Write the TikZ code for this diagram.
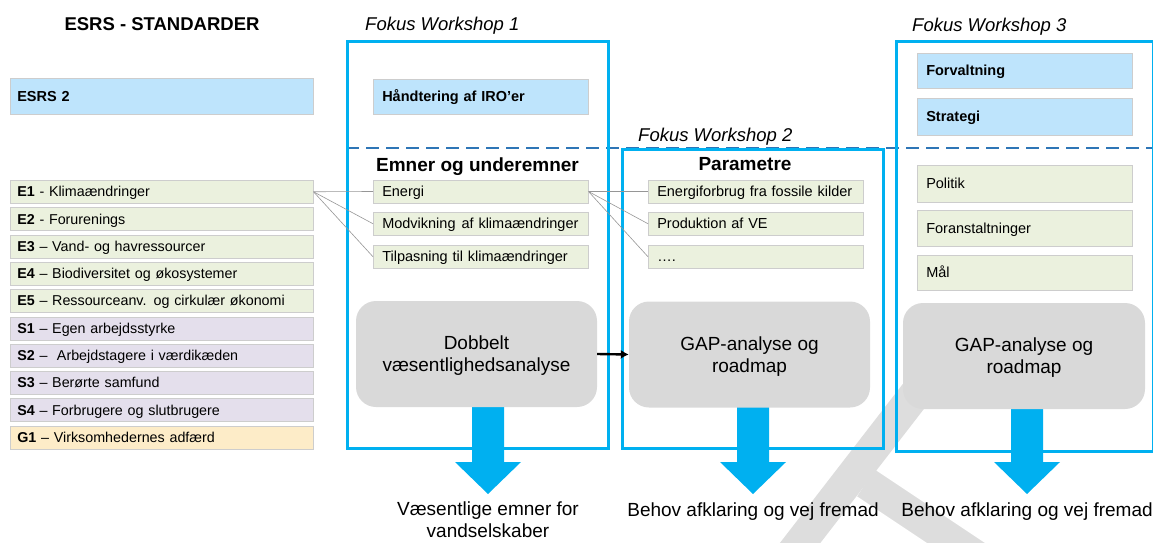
\documentclass[tikz,border=0pt]{standalone}
\usepackage{fontspec}
\setmainfont{Liberation Sans}
\usetikzlibrary{arrows.meta}
\definecolor{lblue}{RGB}{190,228,252}
\definecolor{lgreen}{RGB}{235,241,222}
\definecolor{llav}{RGB}{228,223,236}
\definecolor{lyel}{RGB}{253,236,200}
\definecolor{wsblue}{RGB}{0,176,240}
\definecolor{dashblue}{RGB}{46,117,182}
\definecolor{gbox}{RGB}{217,217,217}
\definecolor{wmark}{RGB}{221,221,221}
\definecolor{cline}{RGB}{150,150,150}
\definecolor{bord}{RGB}{205,205,205}
\newcommand{\fsList}{\fontsize{14.3pt}{17pt}\selectfont}
\newcommand{\fsBox}{\fontsize{14.5pt}{17pt}\selectfont}
\newcommand{\fsBig}{\fontsize{19pt}{22pt}\selectfont}
\newcommand{\fsTitle}{\fontsize{18.5pt}{22pt}\selectfont}
\newcommand{\bluearrow}[1]{\fill[wsblue] ({#1-16},400) -- ({#1+16},400) -- ({#1+16},462) -- ({#1+33},462) -- (#1,494) -- ({#1-33},462) -- ({#1-16},462) -- cycle;}
\tikzset{
  lst/.style={anchor=north west, inner xsep=7pt, inner ysep=0pt, text width=289pt,
    minimum height=23pt, align=left, font=\fsList, text height=11pt, text depth=1pt,
    draw=bord, line width=0.5pt},
  wbox/.style={anchor=north west, inner xsep=9pt, inner ysep=0pt, text width=197pt,
    align=left, font=\fsBox, text height=11.4pt, text depth=1pt,
    draw=bord, line width=0.5pt},
  gbx/.style={fill=gbox, rounded corners=20pt, minimum width=241pt, minimum height=106pt,
    align=center, font=\fsBig, text depth=0pt, inner sep=0pt},
  wsframe/.style={draw=wsblue, line width=2.8pt, anchor=north west, inner sep=0pt},
  dsh/.style={draw=dashblue, line width=2.8pt, dash pattern=on 13pt off 7pt},
  conn/.style={draw=cline, line width=0.6pt},
  flow/.style={draw=black, line width=2.4pt, -{Latex[length=8pt,width=9pt]}},
  ttl/.style={font=\fsTitle\itshape, anchor=base west, inner sep=0pt},
  hdr/.style={font=\fsBig\bfseries, anchor=base, inner sep=0pt},
  outtxt/.style={font=\fsBig, align=center, inner sep=0pt},
  wm/.style={draw=wmark, line width=32pt}
}
\begin{document}
\begin{tikzpicture}[x=1pt,y=-1pt]
\useasboundingbox (0,0) rectangle (1153,543);
% watermark
\coordinate (wa1) at (780,569);
\coordinate (wa2) at (957,340);
\coordinate (wb1) at (866,483);
\coordinate (wb2) at (1010,579);
\draw[wm] (wa1) -- (wa2);
\draw[wm] (wb1) -- (wb2);

% left column
\node[font=\fsTitle\bfseries, anchor=base, inner sep=0pt] (esrshd) at (162,31) {ESRS - STANDARDER};
\node[lst, fill=lblue, minimum height=36pt, font=\fsBox\bfseries] (esrs2) at (10,78) {ESRS 2};
\node[lst, fill=lgreen] (e1) at (10,180) {\textbf{E1} - Klimaændringer};
\node[lst, fill=lgreen] (e2) at (10,207.3) {\textbf{E2} - Forurenings};
\node[lst, fill=lgreen] (e3) at (10,234.6) {\textbf{E3} – Vand- og havressourcer};
\node[lst, fill=lgreen] (e4) at (10,261.9) {\textbf{E4} – Biodiversitet og økosystemer};
\node[lst, fill=lgreen] (e5) at (10,289.2) {\textbf{E5} – Ressourceanv. og cirkulær økonomi};
\node[lst, fill=llav] (s1) at (10,316.5) {\textbf{S1} – Egen arbejdsstyrke};
\node[lst, fill=llav] (s2) at (10,343.8) {\textbf{S2} –\ \ Arbejdstagere i værdikæden};
\node[lst, fill=llav] (s3) at (10,371.1) {\textbf{S3} – Berørte samfund};
\node[lst, fill=llav] (s4) at (10,398.4) {\textbf{S4} – Forbrugere og slutbrugere};
\node[lst, fill=lyel] (g1) at (10,425.7) {\textbf{G1} – Virksomhedernes adfærd};

% dashed divider
\coordinate (dl) at (346,148);
\coordinate (dr) at (1153,148);
\draw[dsh] (dl) -- (dr);

% workshop frames
\node[wsframe, minimum width=261pt, minimum height=407pt] (ws1) at (346,40) {};
\node[wsframe, minimum width=261pt, minimum height=299pt] (ws2) at (621,148) {};
\node[wsframe, minimum width=257pt, minimum height=410pt] (ws3) at (895,40) {};

\node[ttl] (t1) at (365,31) {Fokus Workshop 1};
\node[ttl] (t2) at (638,141) {Fokus Workshop 2};
\node[ttl] (t3) at (912,32) {Fokus Workshop 3};

% workshop 1
\node[wbox, fill=lblue, minimum height=35pt, font=\fsBox\bfseries] (iro) at (373,79) {Håndtering af IRO’er};
\node[hdr] (emner) at (477.5,171) {Emner og underemner};
\node[wbox, fill=lgreen, minimum height=22.5pt] (energi) at (373,180) {Energi};
\node[wbox, fill=lgreen, minimum height=23pt] (modv) at (373,212) {\mbox{Modvikning\hspace{6pt}af klimaændringer}};
\node[wbox, fill=lgreen, minimum height=23pt] (tilp) at (373,245) {\mbox{Tilpasning til klimaændringer}};

% workshop 2
\node[hdr] (param) at (745,170) {Parametre};
\node[wbox, fill=lgreen, minimum height=22.5pt] (p1) at (648,180) {\mbox{Energiforbrug fra fossile kilder}};
\node[wbox, fill=lgreen, minimum height=23pt] (p2) at (648,212) {Produktion af VE};
\node[wbox, fill=lgreen, minimum height=23pt] (p3) at (648,245) {….};

% workshop 3
\node[wbox, fill=lblue, minimum height=35pt, font=\fsBox\bfseries] (forv) at (917,53) {Forvaltning};
\node[wbox, fill=lblue, minimum height=37pt, font=\fsBox\bfseries] (strat) at (917,98) {Strategi};
\node[wbox, fill=lgreen, minimum height=37pt] (pol) at (917,165) {Politik};
\node[wbox, fill=lgreen, minimum height=36pt] (foran) at (917,210) {Foranstaltninger};
\node[wbox, fill=lgreen, minimum height=35pt] (maal) at (917,255) {Mål};

% connectors
\draw[conn] (e1.east) -- (energi.west);
\draw[conn] (e1.east) -- (modv.west);
\draw[conn] (e1.east) -- (tilp.west);
\draw[conn] (energi.east) -- (p1.west);
\draw[conn] (energi.east) -- (p2.west);
\draw[conn] (energi.east) -- (p3.west);

% blue arrows
\bluearrow{488}
\bluearrow{753}
\bluearrow{1027}

% grey process boxes
\node[gbx] (gb1) at (476.5,354) {Dobbelt\\væsentlighedsanalyse};
\node[gbx] (gb2) at (749.5,354.5) {GAP-analyse og\\roadmap};
\node[gbx, minimum width=242pt] (gb3) at (1024,356) {GAP-analyse og\\roadmap};
\draw[flow] (gb1.east) -- (gb2.west);

% outputs
\node[outtxt, text depth=0pt] (o1) at (488,520) {Væsentlige emner for\\vandselskaber};
\node[font=\fsBig, anchor=base, inner sep=0pt] (o2) at (753,516) {Behov afklaring og vej fremad};
\node[font=\fsBig, anchor=base, inner sep=0pt] (o3) at (1027,516) {Behov afklaring og vej fremad};
\end{tikzpicture}
\end{document}
